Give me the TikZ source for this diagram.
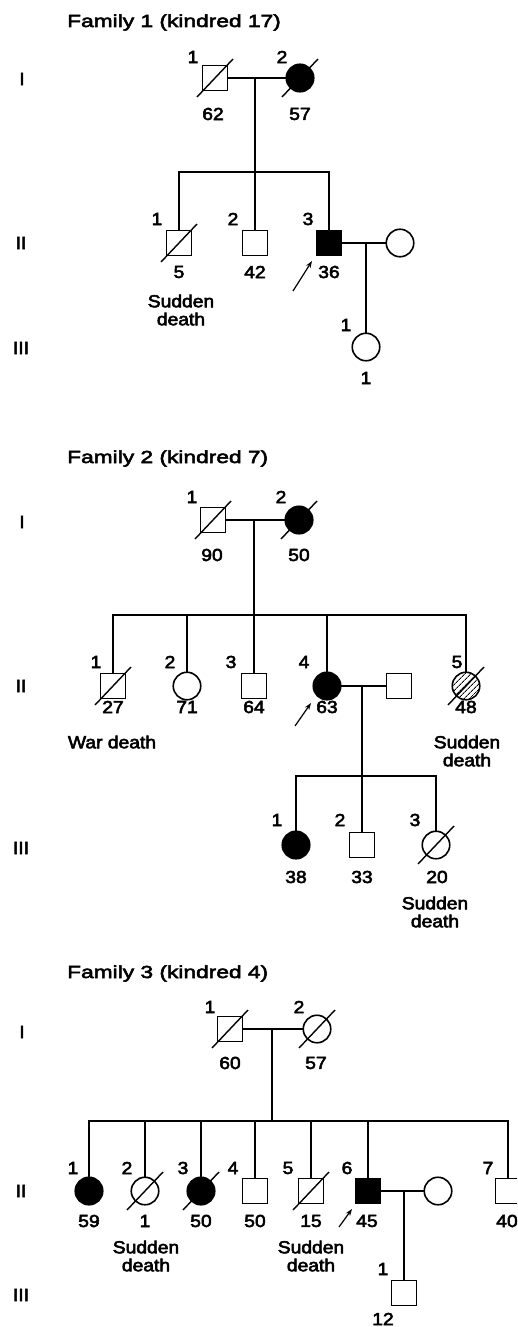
\documentclass[tikz,border=0pt]{standalone}
\usepackage{fontspec}
\setmainfont{Liberation Sans}[FakeStretch=1.1,FakeBold=3.2]
\newfontfamily\titlefont{Liberation Sans}[FakeStretch=1.3,FakeBold=3.2]
\usetikzlibrary{arrows.meta,patterns.meta}
\newcommand\lab{\fontsize{17.5}{18}\selectfont}
\newcommand\ttl{\titlefont\fontsize{17.5}{18}\selectfont}
\tikzset{
 sym/.style={draw, line width=1.6pt, inner sep=0pt, outer sep=0pt},
 male/.style={sym, rectangle, minimum size=25pt},
 female/.style={sym, circle, minimum size=27.5pt},
 aff/.style={fill=black},
 hatch/.style={pattern={Lines[angle=45,distance=4pt,line width=1pt]}},
 lbl/.style={font=\lab, inner sep=0pt},
 ttlstyle/.style={font=\ttl, inner sep=0pt, anchor=base west},
 rel/.style={line width=1.2pt},
 slash/.style={line width=1.4pt},
 prob/.style={line width=1.2pt, -{Stealth[length=7pt,width=5pt]}},
}
\newcommand\dead[1]{\draw[slash] ([shift={(-18,19)}]#1.center) -- ([shift={(18,-19)}]#1.center);}
\begin{document}
\begin{tikzpicture}[x=1pt,y=-1pt]
\useasboundingbox (0,0) rectangle (517,1327);
\clip (0,0) rectangle (517,1327);
\fill[white] (0,0) rectangle (517,1327);

% ================= Family 1 =================
\node[ttlstyle] (t1) at (67,27) {Family 1 (kindred 17)};
\node[lbl] (g1I) at (22,79) {I};
\node[lbl] (g1II) at (21,243) {II};
\node[lbl] (g1III) at (21,348) {III};

\node[male] (f1a) at (215,78) {};
\node[female,aff] (f1b) at (300,78) {};
\dead{f1a}\dead{f1b}
\coordinate (f1m) at (255,78);
\coordinate (f1sib) at (255,172);
\draw[rel] (f1a.east) -- (f1b.west);

\node[male] (f1c1) at (179,243) {};
\node[male] (f1c2) at (255,243) {};
\node[male,aff] (f1c3) at (329,243) {};
\node[female] (f1s) at (400,243) {};
\dead{f1c1}
\draw[rel] (f1m) -- (f1c2.north);
\draw[rel] (f1c1.north) |- (f1sib) -| (f1c3.north);
\draw[rel] (f1c3.east) -- (f1s.west);
\coordinate (f1n) at (366,243);
\node[female] (f1g) at (366,347) {};
\draw[rel] (f1n) -- (f1g.north);

\node[lbl] (l1a) at (193,57) {1};
\node[lbl] (l1b) at (282,57) {2};
\node[lbl] (a1a) at (213,114) {62};
\node[lbl] (a1b) at (300,114) {57};
\node[lbl] (l1c1) at (157,219) {1};
\node[lbl] (l1c2) at (233,219) {2};
\node[lbl] (l1c3) at (308,219) {3};
\node[lbl] (a1c1) at (179,272) {5};
\node[lbl] (a1c2) at (255,272) {42};
\node[lbl] (a1c3) at (329,272) {36};
\node[lbl,align=center] (d1c1) at (181,310) {Sudden\\death};
\node[lbl] (l1g) at (346,325) {1};
\node[lbl] (a1g) at (366,378) {1};
\coordinate (p1s) at (293,291);
\coordinate (p1e) at (312,261);
\draw[prob] (p1s) -- (p1e);

% ================= Family 2 =================
\node[ttlstyle] (t2) at (67,463) {Family 2 (kindred 7)};
\node[lbl] (g2I) at (22,522) {I};
\node[lbl] (g2II) at (21,686) {II};
\node[lbl] (g2III) at (21,848) {III};

\node[male] (f2a) at (213,520) {};
\node[female,aff] (f2b) at (299,520) {};
\dead{f2a}\dead{f2b}
\draw[rel] (f2a.east) -- (f2b.west);
\coordinate (f2m) at (254,520);
\coordinate (f2sib) at (254,615);

\node[male] (f2c1) at (113,686) {};
\node[female] (f2c2) at (187,686) {};
\node[male] (f2c3) at (254,686) {};
\node[female,aff] (f2c4) at (327,686) {};
\node[male] (f2s) at (399,686) {};
\node[female,hatch] (f2c5) at (466,686) {};
\dead{f2c1}\dead{f2c5}
\draw[rel] (f2m) -- (f2c3.north);
\draw[rel] (f2c1.north) |- (f2sib) -| (f2c5.north);
\draw[rel] (f2c2.north) -- (f2c2.north |- f2sib);
\draw[rel] (f2c4.north) -- (f2c4.north |- f2sib);
\draw[rel] (f2c4.east) -- (f2s.west);
\coordinate (f2n) at (362,686);
\coordinate (f2sib3) at (362,776);

\node[female,aff] (f2g1) at (296,845) {};
\node[male] (f2g2) at (362,845) {};
\node[female] (f2g3) at (436,845) {};
\dead{f2g3}
\draw[rel] (f2n) -- (f2g2.north);
\draw[rel] (f2g1.north) |- (f2sib3) -| (f2g3.north);

\node[lbl] (l2a) at (192,497) {1};
\node[lbl] (l2b) at (281,497) {2};
\node[lbl] (a2a) at (212,555) {90};
\node[lbl] (a2b) at (299,555) {50};
\node[lbl] (l2c1) at (96,662) {1};
\node[lbl] (l2c2) at (170,662) {2};
\node[lbl] (l2c3) at (231,662) {3};
\node[lbl] (l2c4) at (304,662) {4};
\node[lbl] (l2c5) at (457,662) {5};
\node[lbl] (a2c1) at (113,707) {27};
\node[lbl] (a2c2) at (187,707) {71};
\node[lbl] (a2c3) at (254,707) {64};
\node[lbl] (a2c4) at (327,707) {63};
\node[lbl] (a2c5) at (466,707) {48};
\node[lbl] (d2c1) at (112,742) {War death};
\node[lbl,align=center] (d2c5) at (467,751) {Sudden\\death};
\coordinate (p2s) at (295,726);
\coordinate (p2e) at (311,703);
\draw[prob] (p2s) -- (p2e);
\node[lbl] (l2g1) at (277,820) {1};
\node[lbl] (l2g2) at (340,820) {2};
\node[lbl] (l2g3) at (415,820) {3};
\node[lbl] (a2g1) at (296,877) {38};
\node[lbl] (a2g2) at (362,877) {33};
\node[lbl] (a2g3) at (437,877) {20};
\node[lbl,align=center] (d2g3) at (435,912) {Sudden\\death};

% ================= Family 3 =================
\node[ttlstyle] (t3) at (67,978) {Family 3 (kindred 4)};
\node[lbl] (g3I) at (22,1032) {I};
\node[lbl] (g3II) at (21,1191) {II};
\node[lbl] (g3III) at (21,1295) {III};

\node[male] (f3a) at (230,1029) {};
\node[female] (f3b) at (317,1029) {};
\dead{f3a}\dead{f3b}
\draw[rel] (f3a.east) -- (f3b.west);
\coordinate (f3m) at (272,1029);
\coordinate (f3sib) at (272,1121);
\draw[rel] (f3m) -- (f3sib);

\node[female,aff] (f3c1) at (89,1191) {};
\node[female] (f3c2) at (145,1191) {};
\node[female,aff] (f3c3) at (201,1191) {};
\node[male] (f3c4) at (255,1191) {};
\node[male] (f3c5) at (311,1191) {};
\node[male,aff] (f3c6) at (368,1191) {};
\node[female] (f3s) at (438,1191) {};
\node[male] (f3c7) at (508,1191) {};
\dead{f3c2}\dead{f3c3}\dead{f3c5}
\draw[rel] (f3c1.north) |- (f3sib) -| (f3c7.north);
\foreach \c in {f3c2,f3c3,f3c4,f3c5,f3c6}
  \draw[rel] (\c.north) -- (\c.north |- f3sib);
\draw[rel] (f3c6.east) -- (f3s.west);
\coordinate (f3n) at (404,1191);
\node[male] (f3g) at (404,1293) {};
\draw[rel] (f3n) -- (f3g.north);

\node[lbl] (l3a) at (210,1007) {1};
\node[lbl] (l3b) at (299,1007) {2};
\node[lbl] (a3a) at (230,1063) {60};
\node[lbl] (a3b) at (316,1063) {57};
\node[lbl] (l3c1) at (73,1168) {1};
\node[lbl] (l3c2) at (127,1168) {2};
\node[lbl] (l3c3) at (183,1168) {3};
\node[lbl] (l3c4) at (233,1168) {4};
\node[lbl] (l3c5) at (288,1168) {5};
\node[lbl] (l3c6) at (347,1168) {6};
\node[lbl] (l3c7) at (488,1168) {7};
\node[lbl] (a3c1) at (89,1221) {59};
\node[lbl] (a3c2) at (145,1221) {1};
\node[lbl] (a3c3) at (201,1221) {50};
\node[lbl] (a3c4) at (255,1221) {50};
\node[lbl] (a3c5) at (311,1221) {15};
\node[lbl] (a3c6) at (367,1221) {45};
\node[lbl] (a3c7) at (507,1221) {40};
\node[lbl,align=center] (d3c2) at (146,1256) {Sudden\\death};
\node[lbl,align=center] (d3c5) at (311,1256) {Sudden\\death};
\coordinate (p3s) at (339,1227);
\coordinate (p3e) at (352,1209);
\draw[prob] (p3s) -- (p3e);
\node[lbl] (l3g) at (383,1269) {1};
\node[lbl] (a3g) at (383,1319) {12};
\end{tikzpicture}
\end{document}
